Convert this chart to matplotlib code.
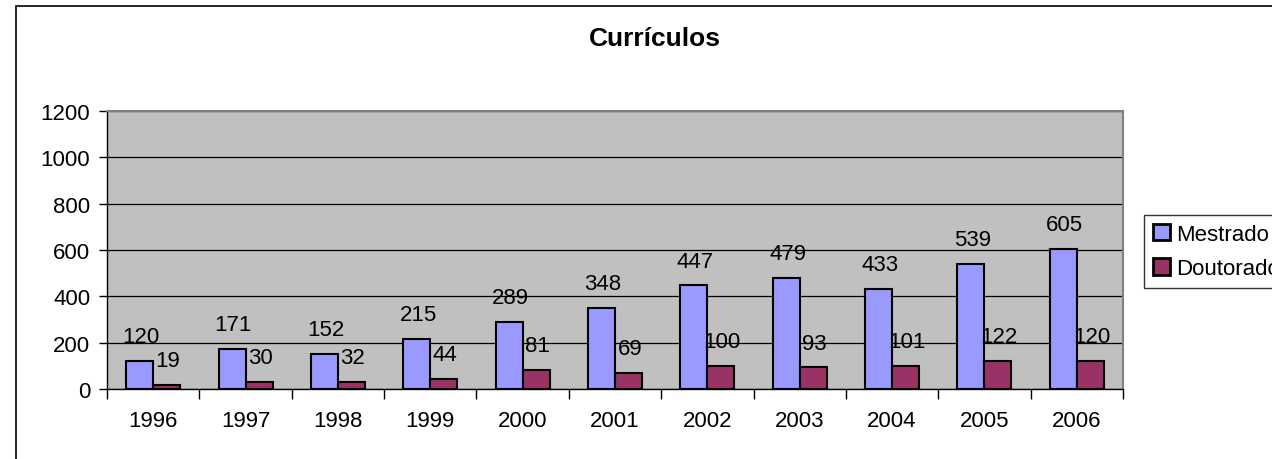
import matplotlib
matplotlib.use("Agg")
import matplotlib.pyplot as plt
from matplotlib.patches import Rectangle
import numpy as np

plt.rcParams['font.family'] = ['Liberation Sans', 'DejaVu Sans']

years = ["1996", "1997", "1998", "1999", "2000", "2001", "2002", "2003", "2004", "2005", "2006"]
mestrado = [120, 171, 152, 215, 289, 348, 447, 479, 433, 539, 605]
doutorado = [19, 30, 32, 44, 81, 69, 100, 93, 101, 122, 120]
yticks = [0, 200, 400, 600, 800, 1000, 1200]

W, H = 1272, 460
fig = plt.figure(figsize=(W / 100, H / 100), dpi=100)

# outer chart border (extends beyond right/bottom edges)
fig.patches.append(Rectangle((16 / W, 1 - 1200 / H), 1400 / W, (1200 - 7) / H,
                             transform=fig.transFigure, fill=False,
                             edgecolor='black', linewidth=1.2, zorder=0))

left, right, top, bottom = 107, 1123, 112, 390
ax = fig.add_axes([left / W, 1 - bottom / H, (right - left) / W, (bottom - top) / H])
ax.set_facecolor('#C0C0C0')

FS = 16
x = np.arange(len(years))
bw = 27 / ((right - left) / len(years))
ax.bar(x - bw / 2, mestrado, bw, color='#9999FF', edgecolor='black', linewidth=1.5,
       label='Mestrado', zorder=3)
ax.bar(x + bw / 2, doutorado, bw, color='#993366', edgecolor='black', linewidth=1.5,
       label='Doutorado', zorder=3)

for i in range(len(years)):
    ax.annotate(str(mestrado[i]), (x[i] - bw / 2, mestrado[i]), xytext=(1, 10),
                textcoords='offset points', ha='center', va='bottom', fontsize=FS, zorder=4)
    ax.annotate(str(doutorado[i]), (x[i] + bw / 2, doutorado[i]), xytext=(1, 10),
                textcoords='offset points', ha='center', va='bottom', fontsize=FS, zorder=4)

ax.set_xlim(-0.5, len(years) - 0.5)
ax.set_ylim(0, 1200)
ax.set_yticks(yticks)
ax.set_yticklabels([str(v) for v in yticks], fontsize=FS)
ax.yaxis.grid(True, color='black', linewidth=0.9, zorder=1)
ax.set_axisbelow(True)

ax.set_xticks(x)
ax.set_xticklabels(years, fontsize=FS)
ax.tick_params(axis='x', length=0, pad=15)
ax.set_xticks(np.arange(-0.5, len(years), 1.0), minor=True)
ax.tick_params(axis='x', which='minor', length=7, width=1, color='black')
ax.tick_params(axis='y', length=6, width=1, color='black', pad=6)

for s in ['top', 'right']:
    ax.spines[s].set_color('#808080')
    ax.spines[s].set_linewidth(1.5)
ax.spines['left'].set_color('black')
ax.spines['bottom'].set_color('black')
ax.spines['left'].set_linewidth(1.0)
ax.spines['bottom'].set_linewidth(1.0)

fig.text(655 / W, 1 - 39 / H, 'Currículos', ha='center', va='center',
         fontsize=19, fontweight='bold')

leg = fig.legend(loc='upper left', bbox_to_anchor=(1144 / W, 1 - 216 / H),
                 fontsize=FS, frameon=True, fancybox=False, edgecolor='black',
                 handlelength=0.75, handleheight=0.75, handletextpad=0.3,
                 borderpad=0.4, labelspacing=0.6, borderaxespad=0)
leg.get_frame().set_linewidth(1.0)
for h in leg.legend_handles:
    h.set_linewidth(2.0)

fig.savefig('out.png', dpi=100)
